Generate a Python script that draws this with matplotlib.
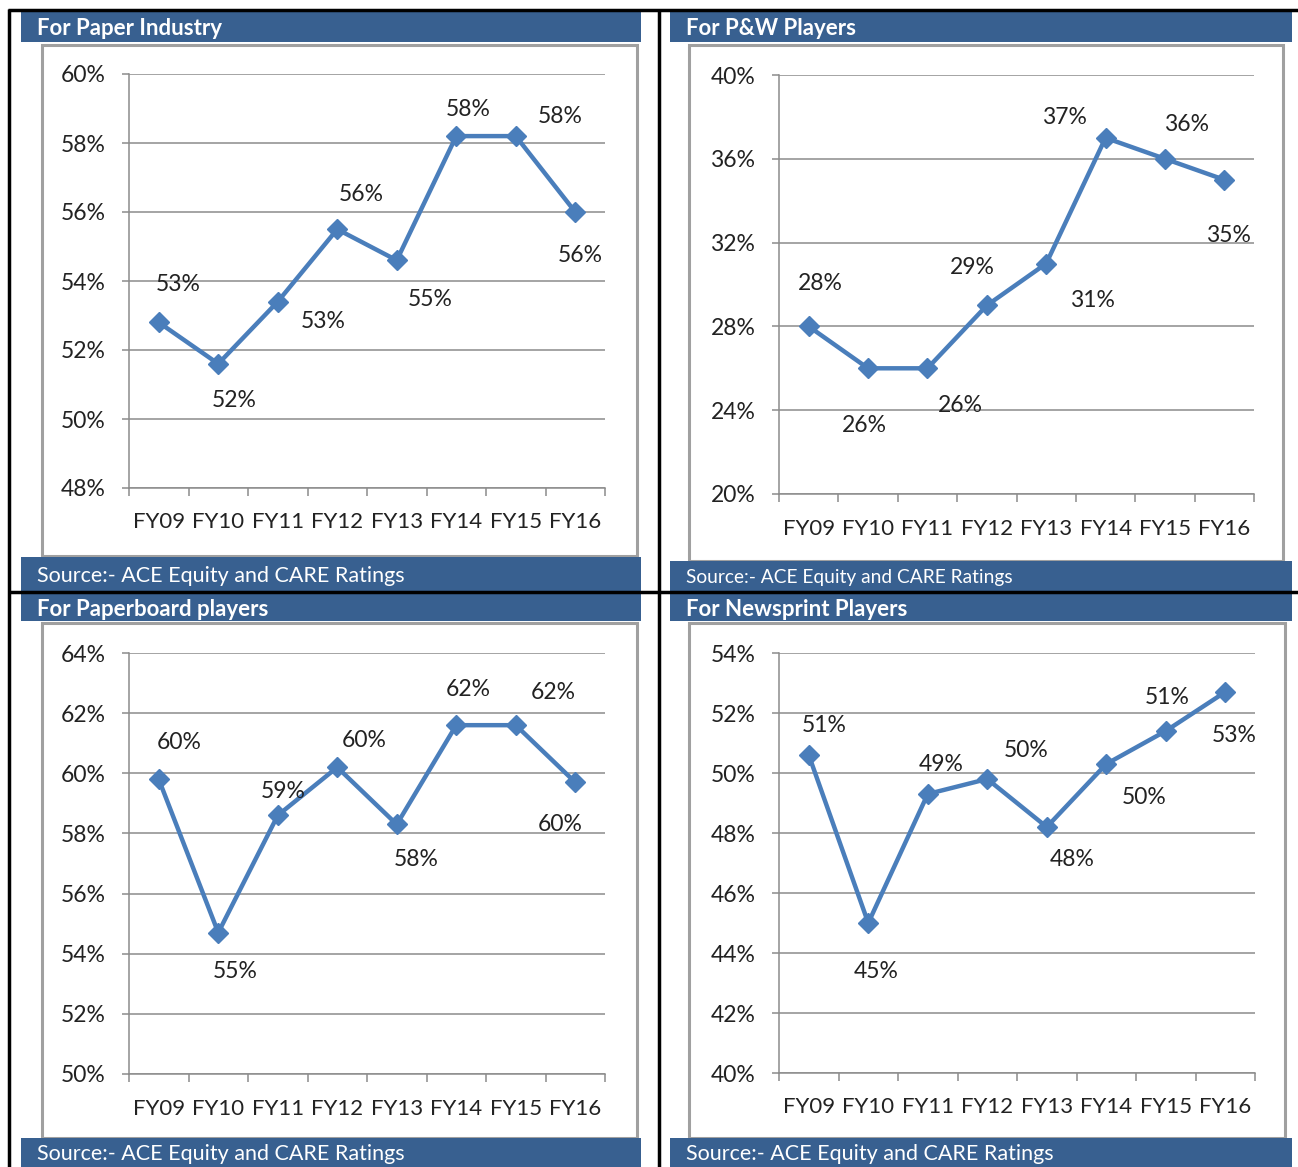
import matplotlib
matplotlib.use("Agg")
import matplotlib.pyplot as plt
from matplotlib.patches import Rectangle
import numpy as np

# ---- data --------------------------------------------------------------
years = ["FY09", "FY10", "FY11", "FY12", "FY13", "FY14", "FY15", "FY16"]

titles = ["For Paper Industry", "For P&W Players",
          "For Paperboard players", "For Newsprint Players"]
source_text = "Source:- ACE Equity and CARE Ratings"

paper_industry = [52.8, 51.6, 53.4, 55.5, 54.6, 58.2, 58.2, 56.0]
pw_players = [28.0, 26.0, 26.0, 29.0, 31.0, 37.0, 36.0, 35.0]
paperboard = [59.8, 54.7, 58.6, 60.2, 58.3, 61.6, 61.6, 59.7]
newsprint = [50.6, 45.0, 49.3, 49.8, 48.2, 50.3, 51.4, 52.7]

ticks_paper = [48, 50, 52, 54, 56, 58, 60]
ticks_pw = [20, 24, 28, 32, 36, 40]
ticks_board = [50, 52, 54, 56, 58, 60, 62, 64]
ticks_news = [40, 42, 44, 46, 48, 50, 52, 54]

# ---- layout (pixels of a 1298x1167 canvas) -----------------------------
W, H = 1298, 1167
HEADER_BLUE = "#386090"
LINE_BLUE = "#4A7EBB"
GRID = "#8C8C8C"
TXT = "#222222"

# label offsets (px) from each point, one list per panel
off_paper = [(19, 38), (16, -37), (45, -20), (24, 35), (33, -39), (12, 27), (44, 20), (5, -43)]
off_pw = [(12, 43), (-4, -57), (33, -37), (-15, 38), (46, -37), (-41, 20), (22, 34), (4, -56)]
off_board = [(20, 37), (17, -39), (5, 24), (27, 27), (19, -35), (12, 36), (38, 33), (-15, -42)]
off_news = [(15, 29), (8, -48), (13, 30), (39, 29), (25, -33), (38, -33), (1, 34), (9, -43)]

panels = [
    dict(vals=paper_industry, ticks=ticks_paper, offs=off_paper,
         head=(21, 641, 12, 42), box=(42, 637, 45, 556),
         ax=(129, 605, 74, 488), src=(21, 641, 557, 591), src_fs=15.5, xpad=17),
    dict(vals=pw_players, ticks=ticks_pw, offs=off_pw,
         head=(670, 1292, 12, 42), box=(689, 1283, 45, 561),
         ax=(779, 1254, 75, 494), src=(670, 1292, 561, 591), src_fs=13.8, xpad=18),
    dict(vals=paperboard, ticks=ticks_board, offs=off_board,
         head=(21, 641, 594, 621), box=(42, 637, 623, 1138),
         ax=(129, 605, 653, 1074), src=(21, 641, 1138, 1167), src_fs=15.5, xpad=18),
    dict(vals=newsprint, ticks=ticks_news, offs=off_news,
         head=(670, 1292, 594, 621), box=(689, 1285, 623, 1138),
         ax=(779, 1255, 653, 1073), src=(670, 1292, 1138, 1167), src_fs=15.5, xpad=17),
]

plt.rcParams["font.family"] = ["Lato", "DejaVu Sans"]

fig = plt.figure(figsize=(W / 100, H / 100), dpi=100)
bg = fig.add_axes([0, 0, 1, 1])
bg.set_xlim(0, W)
bg.set_ylim(H, 0)
bg.axis("off")


def rect(x0, x1, y0, y1, **kw):
    bg.add_patch(Rectangle((x0, y0), x1 - x0, y1 - y0, **kw))


for i, p in enumerate(panels):
    hx0, hx1, hy0, hy1 = p["head"]
    rect(hx0, hx1, hy0, hy1, facecolor=HEADER_BLUE, edgecolor="none")
    bg.text(hx0 + 16, (hy0 + hy1) / 2 + 1.5, titles[i], color="white",
            fontsize=16, fontweight="bold", ha="left", va="center")

    bx0, bx1, by0, by1 = p["box"]
    rect(bx0, bx1, by0, by1, facecolor="white", edgecolor="#A0A0A0", linewidth=2.2)

    sx0, sx1, sy0, sy1 = p["src"]
    rect(sx0, sx1, sy0, sy1, facecolor=HEADER_BLUE, edgecolor="none")
    bg.text(sx0 + 16, (sy0 + sy1) / 2 + 2, source_text, color="white",
            fontsize=p["src_fs"], ha="left", va="center")

    l, r, t, b = p["ax"]
    ax = fig.add_axes([l / W, 1 - b / H, (r - l) / W, (b - t) / H])
    ax.set_facecolor("none")
    x = np.arange(len(years))
    ax.plot(x, p["vals"], color=LINE_BLUE, lw=3.2, marker="D", ms=10.5,
            markeredgecolor=LINE_BLUE, zorder=3, clip_on=False)
    for xi, v, (dx, dy) in zip(x, p["vals"], p["offs"]):
        ax.annotate(f"{v:.0f}%", (xi, v), xytext=(dx, dy), textcoords="offset pixels",
                    ha="center", va="center", fontsize=16.5, color=TXT)

    ax.set_xlim(-0.5, len(years) - 0.5)
    ax.set_ylim(p["ticks"][0], p["ticks"][-1])
    ax.set_yticks(p["ticks"])
    ax.set_yticklabels([f"{v}%" for v in p["ticks"]])
    ax.set_xticks(x)
    ax.set_xticklabels(years)
    ax.set_xticks(np.arange(-0.5, len(years)), minor=True)
    ax.grid(axis="y", color=GRID, lw=1.1)
    ax.set_axisbelow(True)
    for s in ["top", "right"]:
        ax.spines[s].set_visible(False)
    for s in ["left", "bottom"]:
        ax.spines[s].set_color(GRID)
        ax.spines[s].set_linewidth(1.1)
    ax.tick_params(axis="y", length=5, width=1.1, color=GRID, pad=12,
                   labelsize=16.5, labelcolor=TXT)
    ax.tick_params(axis="x", which="major", length=0, pad=p["xpad"],
                   labelsize=16, labelcolor=TXT)
    ax.tick_params(axis="x", which="minor", length=6, width=1.1, color=GRID)

# black frame lines
bg.plot([8, W], [10, 10], color="black", lw=2.5, solid_capstyle="butt")
bg.plot([8, W], [592, 592], color="black", lw=2.5, solid_capstyle="butt")
bg.plot([9, 9], [9, H], color="black", lw=2.5, solid_capstyle="butt")
bg.plot([659, 659], [9, H], color="black", lw=2.5, solid_capstyle="butt")

fig.savefig("out.png", dpi=100)
